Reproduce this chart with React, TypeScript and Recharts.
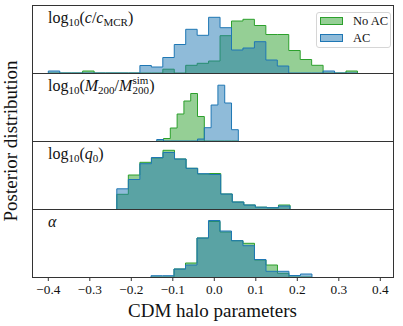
import React from 'react';
import { AreaChart, Area, XAxis, YAxis, Legend } from 'recharts';

// shared x axis of the four stacked panels
const X_DOMAIN = [-0.4393, 0.4306];
const X_TICKS = [-0.4, -0.3, -0.2, -0.1, 0.0, 0.1, 0.2, 0.3, 0.4];

// histogram bins: first edge and bin width for each panel
const BIN_STARTS = [-0.4, -0.1388, -0.235, -0.1525];
const BIN_WIDTHS = [0.02759, 0.01639, 0.02783, 0.0277];

// bin heights (arbitrary density units)
const concNoAC = [0, 0, 0, 2, 0, 0, 0, 0, 0, 0, 3.8, 0, 7.7, 9.7, 12, 37.3, 52, 53.7, 47.5, 38.5, 38.5, 22.5, 13.5, 7.7, 0, 0, 2];
const concAC = [2, 0, 0, 0, 0, 0, 0, 0, 7.5, 6, 15.5, 28.5, 43.7, 37.7, 55.7, 45.3, 23, 25, 31.3, 13, 7, 0, 0, 0, 2, 0, 0];

const massNoAC = [0, 2.5, 13, 27, 40, 47.5, 24.5, 0, 0, 0, 0, 0];
const massAC = [1.5, 0, 0, 0, 0, 0, 2, 13.3, 36, 55.8, 38, 11.3];

const q0NoAC = [14.7, 34, 46.7, 51, 58.7, 50, 40.7, 35, 35.5, 15, 7, 4, 1.8, 1.3, 4];
const q0AC = [20.2, 29.5, 45.3, 51.5, 56.5, 50, 40.7, 35.3, 34.5, 15, 7, 4, 1.8, 1.3, 3];

const alphaNoAC = [0, 0, 8, 14, 39, 55.5, 45, 36.3, 33.7, 17, 12, 3.7, 0, 0];
const alphaAC = [1.3, 1.3, 8, 12, 39, 56.5, 46, 36.3, 31.3, 17.5, 5.7, 5.7, 1.5, 3];

const SERIES_ORDER = ['noAC', 'ac'];

const GREEN = '#2ca02c';
const BLUE = '#1f77b4';
const FONT = '"Liberation Serif", serif';
const INK = '#111';

const PANEL_H = 68;
const PLOT_LEFT = 32;
const PLOT_W = 361;
const PLOT_TOP = 5;

// turn bin heights into a closed step outline for stepAfter areas
function toSteps(start: number, width: number, noAC: number[], ac: number[]) {
  const n = noAC.length;
  const rows = [{ x: start, noAC: 0, ac: 0 }];
  for (let i = 0; i < n; i++) {
    rows.push({ x: start + i * width, noAC: noAC[i], ac: ac[i] });
  }
  const end = start + n * width;
  rows.push({ x: end, noAC: noAC[n - 1], ac: ac[n - 1] });
  rows.push({ x: end, noAC: 0, ac: 0 });
  return rows;
}

const panels = [
  toSteps(BIN_STARTS[0], BIN_WIDTHS[0], concNoAC, concAC),
  toSteps(BIN_STARTS[1], BIN_WIDTHS[1], massNoAC, massAC),
  toSteps(BIN_STARTS[2], BIN_WIDTHS[2], q0NoAC, q0AC),
  toSteps(BIN_STARTS[3], BIN_WIDTHS[3], alphaNoAC, alphaAC),
];

const fmtTick = (v: number) => (v < 0 ? '\u2212' : '') + Math.abs(v).toFixed(1);

const SerifTick = ({ x, y, payload }: any) => (
  <text x={x} y={y + 11} textAnchor="middle" fontFamily={FONT} fontSize={13.3} fill={INK}>
    {fmtTick(payload.value)}
  </text>
);

const LegendBox = ({ payload }: any) => {
  const items = [...(payload || [])].sort(
    (a: any, b: any) => SERIES_ORDER.indexOf(a.dataKey) - SERIES_ORDER.indexOf(b.dataKey)
  );
  return (
    <div
      style={{
        position: 'relative',
        width: 75,
        height: 36,
        boxSizing: 'border-box',
        border: '1px solid #d6d6d6',
        borderRadius: 3,
        background: 'rgba(255,255,255,0.8)',
        fontFamily: FONT,
        fontSize: 12.5,
        color: INK,
      }}
    >
      {items.map((p: any, i: number) => {
        const c = p.dataKey === 'ac' ? BLUE : GREEN;
        return (
          <div key={p.value} style={{ position: 'absolute', left: 3, top: 4 + i * 16.5, height: 8, display: 'flex', alignItems: 'center' }}>
            <span
              style={{
                display: 'inline-block',
                width: 23,
                height: 8,
                boxSizing: 'border-box',
                border: `1px solid ${c}`,
                background: c === BLUE ? 'rgba(31,119,180,0.5)' : 'rgba(44,160,44,0.5)',
              }}
            />
            <span style={{ marginLeft: 10, lineHeight: '8px', whiteSpace: 'nowrap' }}>{p.value}</span>
          </div>
        );
      })}
    </div>
  );
};

function Panel({ index }: { index: number }) {
  const last = index === 3;
  return (
    <div style={{ position: 'absolute', left: PLOT_LEFT, top: PLOT_TOP + index * PANEL_H }}>
      <AreaChart
        width={PLOT_W}
        height={last ? PANEL_H + 32 : PANEL_H}
        data={panels[index]}
        margin={{ top: 0, right: 0, bottom: 0, left: 0 }}
      >
        <XAxis
          type="number"
          dataKey="x"
          domain={X_DOMAIN}
          allowDataOverflow
          hide={!last}
          ticks={X_TICKS}
          interval={0}
          axisLine={false}
          tickSize={4}
          tickLine={{ stroke: '#333' }}
          tick={<SerifTick />}
          height={32}
        />
        <YAxis hide domain={[0, PANEL_H]} allowDataOverflow />
        <Area
          type="stepAfter"
          dataKey="noAC"
          name="No AC"
          stroke={GREEN}
          strokeWidth={1}
          fill={GREEN}
          fillOpacity={0.5}
          isAnimationActive={false}
          activeDot={false}
        />
        <Area
          type="stepAfter"
          dataKey="ac"
          name="AC"
          stroke={BLUE}
          strokeWidth={1}
          fill={BLUE}
          fillOpacity={0.5}
          isAnimationActive={false}
          activeDot={false}
        />
        {index === 0 && (
          <Legend
            layout="horizontal"
            verticalAlign="middle"
            align="center"
            content={LegendBox}
            wrapperStyle={{ left: 284, top: 7, width: 75, height: 36 }}
          />
        )}
      </AreaChart>
    </div>
  );
}

export default function App() {
  const sub = 11;
  return (
    <div style={{ position: 'absolute', left: 0, top: 0, width: 403, height: 326, background: '#fff' }}>
      {[0, 1, 2, 3].map((i) => (
        <Panel key={i} index={i} />
      ))}
      {/* frames */}
      <div
        style={{
          position: 'absolute',
          left: PLOT_LEFT,
          top: PLOT_TOP,
          width: PLOT_W + 1,
          height: 4 * PANEL_H + 1,
          boxSizing: 'border-box',
          border: '1px solid #333',
          pointerEvents: 'none',
        }}
      />
      {[1, 2, 3].map((i) => (
        <div
          key={i}
          style={{
            position: 'absolute',
            left: PLOT_LEFT,
            top: PLOT_TOP + i * PANEL_H,
            width: PLOT_W + 1,
            height: 1,
            background: '#333',
            pointerEvents: 'none',
          }}
        />
      ))}
      <svg width={403} height={326} style={{ position: 'absolute', left: 0, top: 0, pointerEvents: 'none' }}>
        <g fontFamily={FONT} fill={INK} fontSize={16}>
          <text x={48} y={PLOT_TOP + 17.5}>
            log<tspan fontSize={sub} dy={3}>10</tspan>
            <tspan dy={-3}>(</tspan>
            <tspan fontStyle="italic">c</tspan>/<tspan fontStyle="italic">c</tspan>
            <tspan fontSize={sub} dy={3}>MCR</tspan>
            <tspan dy={-3}>)</tspan>
          </text>
          <text x={48} y={PLOT_TOP + PANEL_H + 17.5}>
            log<tspan fontSize={sub} dy={3}>10</tspan>
            <tspan dy={-3}>(</tspan>
            <tspan fontStyle="italic">M</tspan>
            <tspan fontSize={sub} dy={3}>200</tspan>
            <tspan dy={-3}>/</tspan>
            <tspan fontStyle="italic">M</tspan>
            <tspan fontSize={sub} dy={3.5}>200</tspan>
            <tspan fontSize={sub} dx={-16.5} dy={-10.5}>sim</tspan>
            <tspan dx={1} dy={7}>)</tspan>
          </text>
          <text x={48} y={PLOT_TOP + 2 * PANEL_H + 17.5}>
            log<tspan fontSize={sub} dy={3}>10</tspan>
            <tspan dy={-3}>(</tspan>
            <tspan fontStyle="italic">q</tspan>
            <tspan fontSize={sub} dy={3}>0</tspan>
            <tspan dy={-3}>)</tspan>
          </text>
          <text x={48} y={PLOT_TOP + 3 * PANEL_H + 17.5} fontStyle="italic">
            α
          </text>
        </g>
        <text x={212.5} y={317} textAnchor="middle" fontFamily={FONT} fontSize={19} fill={INK}>
          CDM halo parameters
        </text>
        <text transform="translate(17,141) rotate(-90)" textAnchor="middle" fontFamily={FONT} fontSize={19} fill={INK}>
          Posterior distribution
        </text>
      </svg>
    </div>
  );
}
